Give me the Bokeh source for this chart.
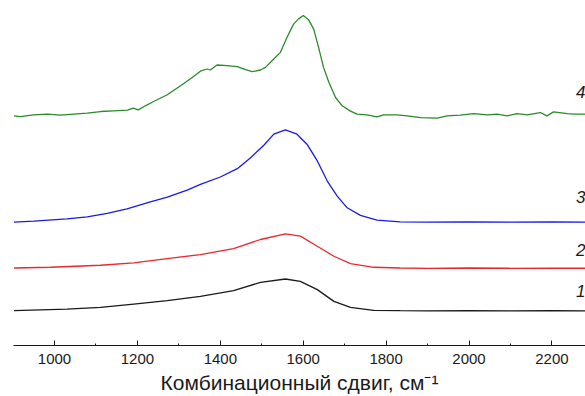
from bokeh.plotting import figure
from bokeh.models import Range1d, FixedTicker, ColumnDataSource
from bokeh.core.properties import value
from bokeh.embed import file_html
from bokeh.resources import INLINE

# Raman shift (cm^-1) and intensity (arb. units, stacked offsets)
x4 = [902, 918, 949, 983, 1014, 1046, 1079, 1111, 1142, 1176, 1190, 1202, 1219, 1239, 1272,
      1304, 1328, 1352, 1368, 1376, 1392, 1416, 1441, 1461, 1477, 1497, 1509, 1529, 1545,
      1561, 1577, 1589, 1600, 1613, 1625, 1637, 1649, 1662, 1678, 1694, 1714, 1730, 1754,
      1778, 1794, 1827, 1851, 1883, 1923, 1947, 1979, 2011, 2044, 2068, 2092, 2116, 2140,
      2172, 2188, 2204, 2237, 2253, 2281]
y4 = [229, 228.3, 230, 230.7, 229.7, 230.7, 231.7, 233.3, 234, 234.7, 236.7, 235, 239, 243.3, 250,
      259, 266, 273.5, 275.7, 274.7, 279.7, 279, 278, 275, 273, 274.7, 277.3, 285.7, 292.3,
      307.3, 320.7, 325.7, 329, 324.7, 315.7, 297.3, 277.3, 262.3, 247.3, 239, 233.7, 230.7, 230,
      228, 230, 230, 229, 227.3, 226.7, 229, 229.7, 231.3, 230, 230.7, 229, 231.3, 230,
      232.3, 229, 233, 231.3, 230.7, 230.7]

x3 = [902, 950, 1030, 1079, 1127, 1175, 1223, 1272, 1320, 1352, 1400, 1441, 1473, 1505, 1529,
      1557, 1585, 1609, 1634, 1658, 1682, 1706, 1738, 1778, 1834, 1900, 2000, 2100, 2200, 2281]
y3 = [123, 124, 126.3, 128.3, 131.7, 136.3, 142.3, 148, 155, 160.7, 168, 176.3, 187.3, 199.7, 210.7,
      215, 210.7, 200.7, 184, 164, 149, 137.3, 129.7, 125, 123.3, 123, 123.3, 123, 123.3, 123]

x2 = [902, 990, 1111, 1191, 1272, 1352, 1432, 1497, 1557, 1593, 1634, 1674, 1714, 1770, 1834,
      1900, 2000, 2100, 2200, 2281]
y2 = [77.3, 78, 80, 82.3, 86.7, 90.7, 96.7, 105.7, 111.3, 109, 99, 89, 81.7, 78, 77.3,
      77, 77.3, 77, 77.2, 77]

x1 = [902, 1030, 1111, 1191, 1272, 1352, 1432, 1497, 1557, 1593, 1634, 1674, 1714, 1770, 1834,
      1900, 2000, 2100, 2200, 2281]
y1 = [34.7, 36.3, 38, 41.3, 44.7, 49, 54.7, 63, 66.3, 64, 55.7, 44, 38, 35, 34.7,
      34.5, 34.7, 34.5, 34.7, 34.5]

curve_labels = ["1", "2", "3", "4"]
label_y = [54, 95, 148.5, 253]
colors = ["#1a1a1a", "#e8282f", "#1a1ae6", "#2a8a2a"]

major_ticks = [1000, 1200, 1400, 1600, 1800, 2000, 2200]
minor_ticks = [900, 1100, 1300, 1500, 1700, 1900, 2100, 2300]

p = figure(width=585, height=396, output_backend="svg", toolbar_location=None,
           x_range=Range1d(901, 2281), y_range=Range1d(0, 344),
           min_border_left=13, min_border_right=0, min_border_top=0, min_border_bottom=0)
p.outline_line_color = None
p.grid.visible = False
p.yaxis.visible = False

for xs, ys, c in zip([x1, x2, x3, x4], [y1, y2, y3, y4], colors):
    p.line(xs, ys, line_color=c, line_width=1.3)

src = ColumnDataSource(dict(x=[2258] * 4, y=label_y, t=curve_labels))
p.text(x="x", y="y", text="t", source=src, text_font=value("Liberation Sans"),
       text_font_size="17px", text_font_style="italic", text_color="#1a1a1a",
       text_align="left", text_baseline="middle")

ax = p.xaxis[0]
ax.ticker = FixedTicker(ticks=major_ticks, minor_ticks=minor_ticks)
ax.axis_label = "Комбинационный сдвиг, см⁻¹"
ax.axis_label_text_font = "Liberation Sans"
ax.axis_label_text_font_size = "21px"
ax.axis_label_text_font_style = "normal"
ax.axis_label_text_color = "#1a1a1a"
ax.axis_label_standoff = 4
ax.major_label_text_font = "Liberation Sans"
ax.major_label_text_font_size = "15px"
ax.major_label_text_color = "#1a1a1a"
ax.major_label_standoff = 8
ax.major_tick_in = 5
ax.major_tick_out = 0
ax.minor_tick_in = 2
ax.minor_tick_out = 0
ax.axis_line_color = "#1a1a1a"
ax.major_tick_line_color = "#1a1a1a"
ax.minor_tick_line_color = "#1a1a1a"

open("out.html", "w").write(file_html(p, INLINE))
